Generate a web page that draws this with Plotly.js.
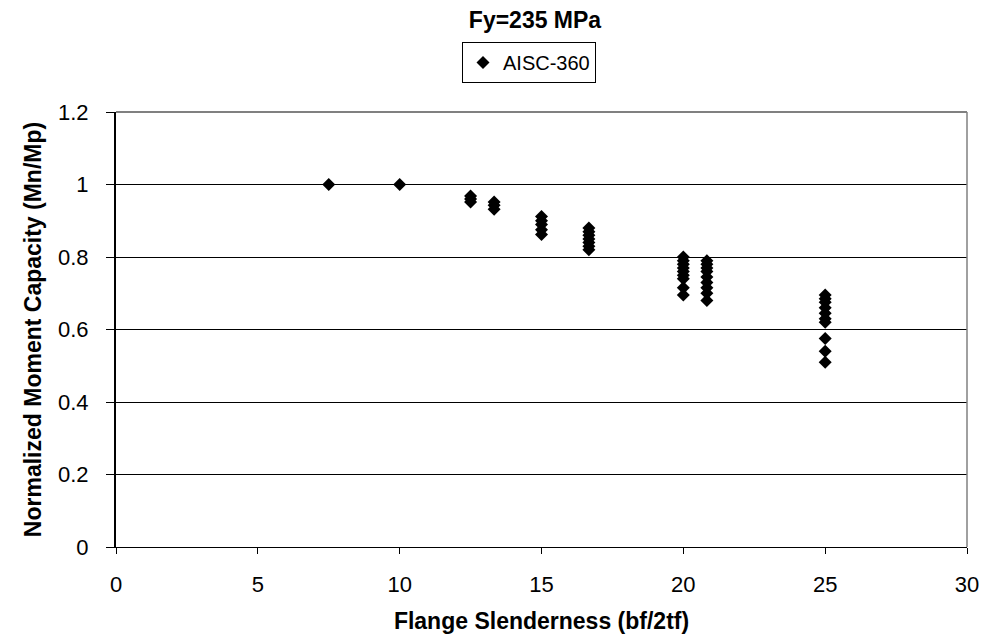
<!DOCTYPE html>
<html>
<head>
<meta charset="utf-8">
<script src="https://cdn.plot.ly/plotly-3.0.1.min.js"></script>
<style>html,body{margin:0;padding:0;background:#fff;}#chart{width:984px;height:635px;}</style>
</head>
<body>
<div id="chart"></div>
<script>
// Flange slenderness groups (bf/2tf)
const slenderness = [7.5, 10, 12.5, 13.33, 15, 16.67, 20, 20.83, 25];
// Normalized moment capacity values for each slenderness group
const g7_5   = [1.0];
const g10    = [1.0];
const g12_5  = [0.968, 0.960, 0.952];
const g13_33 = [0.952, 0.943, 0.932];
const g15    = [0.912, 0.900, 0.890, 0.875, 0.862];
const g16_67 = [0.880, 0.870, 0.860, 0.850, 0.840, 0.830, 0.820];
const g20    = [0.800, 0.790, 0.780, 0.770, 0.760, 0.750, 0.740, 0.715, 0.695];
const g20_83 = [0.790, 0.780, 0.770, 0.760, 0.745, 0.730, 0.715, 0.700, 0.680];
const g25    = [0.695, 0.685, 0.675, 0.660, 0.645, 0.630, 0.620, 0.575, 0.540, 0.510];
const groups = [g7_5, g10, g12_5, g13_33, g15, g16_67, g20, g20_83, g25];

const xTicks = [0, 5, 10, 15, 20, 25, 30];
const yTicks = [0, 0.2, 0.4, 0.6, 0.8, 1, 1.2];
const yTickLabels = ['0', '0.2', '0.4', '0.6', '0.8', '1', '1.2'];

const xs = [], ys = [];
groups.forEach((g, i) => g.forEach(v => { xs.push(slenderness[i]); ys.push(v); }));

const font = 'Arial, "Liberation Sans", sans-serif';

const trace = {
  x: xs, y: ys, type: 'scatter', mode: 'markers', name: 'AISC-360',
  marker: {symbol: 'diamond', size: 10, color: '#000'}
};

const layout = {
  width: 984, height: 635,
  margin: {l: 116, r: 17, t: 112, b: 88},
  paper_bgcolor: '#fff', plot_bgcolor: '#fff',
  font: {family: font, color: '#000'},
  title: {text: '<b>Fy=235 MPa</b>', font: {size: 23, family: font}, x: 0.5437, xanchor: 'center', y: 0.9685, yanchor: 'middle'},
  showlegend: true,
  legend: {x: 0.4066, xanchor: 'left', y: 1.161, yanchor: 'top', bordercolor: '#000', borderwidth: 1,
           font: {size: 20, family: font}, bgcolor: '#fff', itemwidth: 30, tracegroupgap: 0, valign: 'middle'},
  xaxis: {
    range: [0, 30], tickvals: xTicks, ticks: 'outside', ticklen: 6, tickcolor: '#000',
    showgrid: false, zeroline: false, showline: true, linecolor: '#000', linewidth: 1,
    tickfont: {size: 22, family: font}, ticklabelstandoff: 12,
    title: {text: '<b>Flange Slenderness (bf/2tf)</b>', font: {size: 23, family: font}, standoff: 16}
  },
  yaxis: {
    range: [0, 1.2], tickvals: yTicks, ticktext: yTickLabels, ticks: 'outside', ticklen: 8, tickcolor: '#000',
    showgrid: true, gridcolor: '#000', gridwidth: 1, zeroline: false, showline: true, linecolor: '#000', linewidth: 2,
    tickfont: {size: 22, family: font}, ticklabelstandoff: 13,
    title: {text: '<b>Normalized Moment Capacity (Mn/Mp)</b>', font: {size: 23, family: font}, standoff: 10}
  },
  shapes: [
    {type: 'line', xref: 'paper', yref: 'paper', x0: 0, x1: 1, y0: 1, y1: 1, line: {color: '#808080', width: 2}},
    {type: 'line', xref: 'paper', yref: 'paper', x0: 1, x1: 1, y0: 0, y1: 1, line: {color: '#808080', width: 1.5}}
  ]
};

Plotly.newPlot('chart', [trace], layout, {displayModeBar: false});
</script>
</body>
</html>
